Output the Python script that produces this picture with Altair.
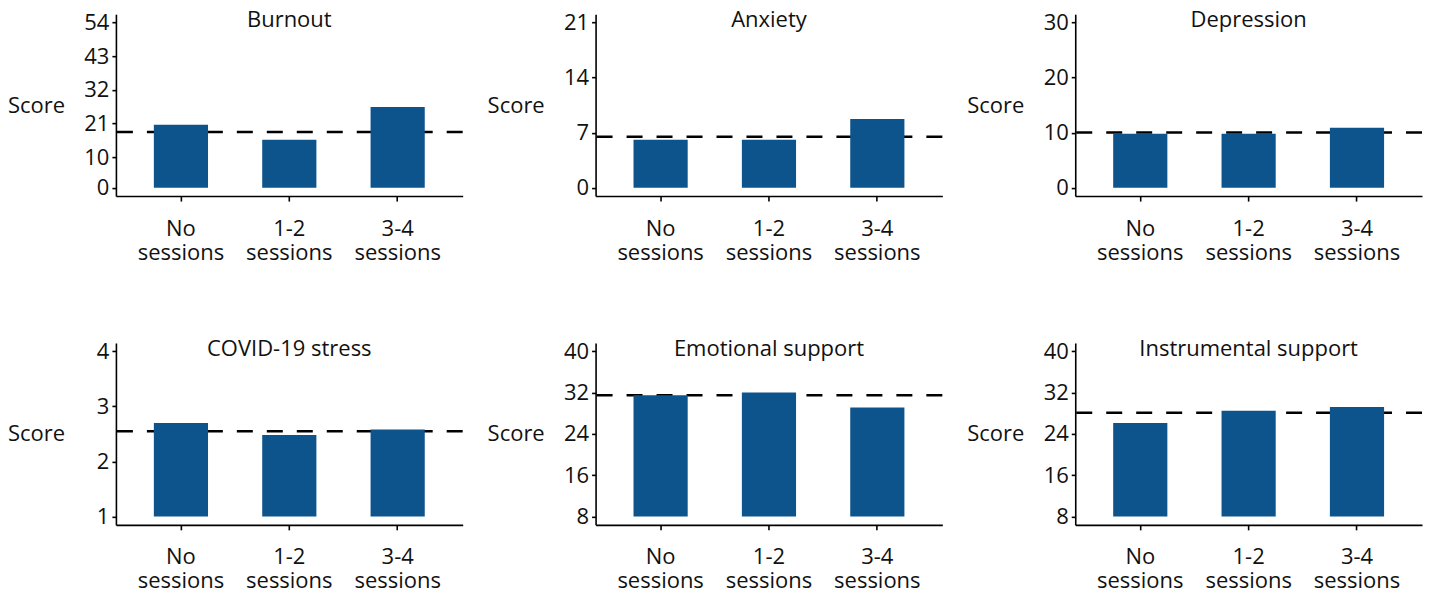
import altair as alt
import pandas as pd

groups = ["No sessions", "1-2 sessions", "3-4 sessions"]
titles = ["Burnout", "Anxiety", "Depression", "COVID-19 stress",
          "Emotional support", "Instrumental support"]
burnout = [20.6, 15.7, 26.4]
anxiety = [6.1, 6.1, 8.75]
depression = [9.8, 9.8, 10.9]
covid = [2.70, 2.48, 2.58]
emotional = [31.5, 32.0, 29.1]
instrumental = [26.1, 28.5, 29.2]
means = [18.2, 6.5, 10.05, 2.55, 31.5, 28.1]
ticks = [[0, 10, 21, 32, 43, 54], [0, 7, 14, 21], [0, 10, 20, 30],
         [1, 2, 3, 4], [8, 16, 24, 32, 40], [8, 16, 24, 32, 40]]
series = [burnout, anxiety, depression, covid, emotional, instrumental]

W, H = 347, 182
FONT = "Open Sans"
FS = 22
BAR = "#0E548C"


def panel(title, vals, mean, tks):
    lo, hi = tks[0], tks[-1]
    pad = 0.05 * (hi - lo)
    scale = alt.Scale(domain=[lo - pad, hi + pad], nice=False, zero=False)
    yaxis = alt.Axis(title="Score", values=tks, grid=False)
    df = pd.DataFrame({"group": groups, "value": vals, "base": [lo] * 3})
    xenc = alt.X(
        "group:N", sort=groups,
        scale=alt.Scale(domain=groups, paddingInner=0.5, paddingOuter=0.35),
        axis=alt.Axis(title=None, labelAngle=0, grid=False,
                      labelExpr="split(datum.label, ' ')",
                      labelLineHeight=24, tickSize=5, labelPadding=17),
    )
    rule = alt.Chart(pd.DataFrame({"value": [mean]})).mark_rule(
        color="black", strokeDash=[16, 14], strokeWidth=2.5
    ).encode(y=alt.Y("value:Q", scale=scale, axis=yaxis))
    bars = alt.Chart(df).mark_bar(color=BAR).encode(
        x=xenc,
        y=alt.Y("value:Q", scale=scale, axis=yaxis),
        y2="base:Q",
    )
    label = alt.Chart(pd.DataFrame({"t": [title]})).mark_text(
        font=FONT, fontSize=FS, baseline="middle", align="center", color="#111"
    ).encode(x=alt.value(W / 2), y=alt.value(6), text="t:N")
    return alt.layer(rule, bars, label).properties(width=W, height=H)


panels = [panel(t, v, m, tk) for t, v, m, tk in zip(titles, series, means, ticks)]

chart = alt.concat(
    *panels, columns=3, spacing={"row": 147, "column": 133}, bounds="flush"
).properties(
    padding={"left": 7, "top": 9, "right": 5, "bottom": 5}
).configure_view(stroke=None).configure_axis(
    labelFont=FONT, labelFontSize=FS, labelColor="#111",
    titleFont=FONT, titleFontSize=FS, titleColor="#111", titleFontWeight="normal",
    domainColor="black", domainWidth=1.6, tickColor="black", tickWidth=1.6,
).configure_axisY(
    tickSize=4, labelPadding=3, titleAngle=0, titleAlign="center",
    titleBaseline="middle", titleX=-80, titleY=H / 2,
)

chart.save("out.html", embed_options={"renderer": "svg", "actions": False})
